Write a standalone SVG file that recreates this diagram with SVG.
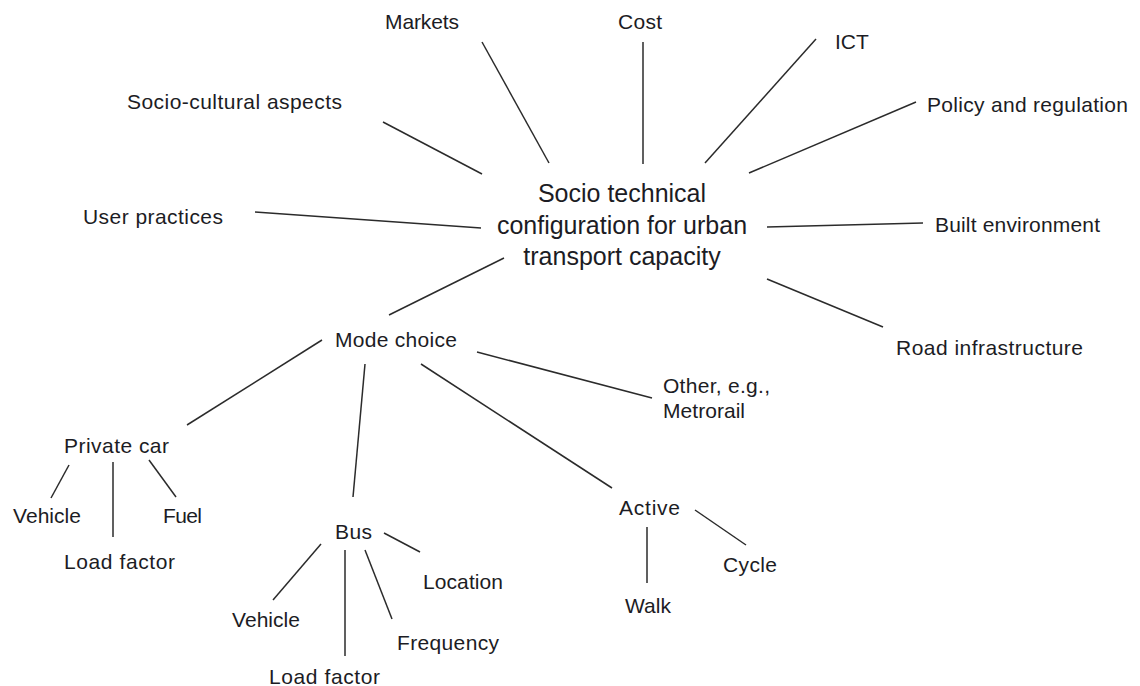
<svg xmlns="http://www.w3.org/2000/svg" width="1140" height="686" viewBox="0 0 1140 686">
  <style>
    text { font-family: "Liberation Sans", Arial, sans-serif; font-size: 21px; fill: #1c1c24; }
    text.hub { font-size: 25px; text-anchor: middle; }
    .links line { stroke: #2b2b2b; stroke-width: 1.5; stroke-linecap: butt; }
  </style>
  <rect width="1140" height="686" fill="#ffffff"/>

  <!-- connectors -->
  <g class="links" id="connectors">
    <line x1="482" y1="42" x2="549" y2="163"/>
    <line x1="643" y1="42" x2="643" y2="164"/>
    <line x1="816" y1="39" x2="705" y2="163"/>
    <line x1="916" y1="102" x2="749" y2="173"/>
    <line x1="383" y1="122" x2="482" y2="174"/>
    <line x1="255" y1="212" x2="481" y2="228"/>
    <line x1="767" y1="227" x2="923" y2="223"/>
    <line x1="767" y1="279" x2="883" y2="327"/>
    <line x1="504" y1="258" x2="389" y2="315"/>
    <line x1="322" y1="340" x2="187" y2="425"/>
    <line x1="365" y1="364" x2="353" y2="497"/>
    <line x1="477" y1="352" x2="652" y2="398"/>
    <line x1="421" y1="364" x2="612" y2="488"/>
    <line x1="69" y1="465" x2="51" y2="498"/>
    <line x1="113" y1="462" x2="113" y2="537"/>
    <line x1="149" y1="460" x2="176" y2="497"/>
    <line x1="321" y1="544" x2="273" y2="600"/>
    <line x1="345" y1="550" x2="345" y2="656"/>
    <line x1="365" y1="550" x2="392" y2="619"/>
    <line x1="384" y1="533" x2="420" y2="552"/>
    <line x1="647" y1="527" x2="647" y2="583"/>
    <line x1="695" y1="510" x2="746" y2="545"/>
  </g>

  <!-- central concept -->
  <g id="hub">
    <text class="hub" x="622" y="202">Socio technical</text>
    <text class="hub" x="622" y="234">configuration for urban</text>
    <text class="hub" x="622" y="265">transport capacity</text>
  </g>

  <!-- surrounding factors -->
  <g id="markets"><text x="385" y="29" textLength="74" lengthAdjust="spacing">Markets</text></g>
  <g id="cost"><text x="618" y="29" textLength="44" lengthAdjust="spacing">Cost</text></g>
  <g id="ict"><text x="835" y="49">ICT</text></g>
  <g id="policy"><text x="927" y="112" textLength="201" lengthAdjust="spacing">Policy and regulation</text></g>
  <g id="socio-cultural"><text x="127" y="109" textLength="215" lengthAdjust="spacing">Socio-cultural aspects</text></g>
  <g id="user-practices"><text x="83" y="224" textLength="140" lengthAdjust="spacing">User practices</text></g>
  <g id="built-environment"><text x="935" y="232" textLength="165" lengthAdjust="spacing">Built environment</text></g>
  <g id="road-infrastructure"><text x="896" y="355" textLength="187" lengthAdjust="spacing">Road infrastructure</text></g>

  <!-- mode choice branch -->
  <g id="mode-choice"><text x="335" y="347" textLength="122" lengthAdjust="spacing">Mode choice</text></g>
  <g id="other">
    <text x="663" y="393" textLength="107" lengthAdjust="spacing">Other, e.g.,</text>
    <text x="663" y="418" textLength="82" lengthAdjust="spacing">Metrorail</text>
  </g>

  <g id="private-car"><text x="64" y="453" textLength="105" lengthAdjust="spacing">Private car</text></g>
  <g id="car-vehicle"><text x="13" y="523" textLength="68" lengthAdjust="spacing">Vehicle</text></g>
  <g id="car-fuel"><text x="163" y="523" textLength="39" lengthAdjust="spacing">Fuel</text></g>
  <g id="car-load-factor"><text x="64" y="569" textLength="111" lengthAdjust="spacing">Load factor</text></g>

  <g id="bus"><text x="335" y="539" textLength="37" lengthAdjust="spacing">Bus</text></g>
  <g id="bus-vehicle"><text x="232" y="627" textLength="68" lengthAdjust="spacing">Vehicle</text></g>
  <g id="bus-location"><text x="423" y="589" textLength="80" lengthAdjust="spacing">Location</text></g>
  <g id="bus-frequency"><text x="397" y="650" textLength="102" lengthAdjust="spacing">Frequency</text></g>
  <g id="bus-load-factor"><text x="269" y="684" textLength="111" lengthAdjust="spacing">Load factor</text></g>

  <g id="active"><text x="619" y="515" textLength="61" lengthAdjust="spacing">Active</text></g>
  <g id="walk"><text x="625" y="613" textLength="46" lengthAdjust="spacing">Walk</text></g>
  <g id="cycle"><text x="723" y="572" textLength="54" lengthAdjust="spacing">Cycle</text></g>
</svg>
